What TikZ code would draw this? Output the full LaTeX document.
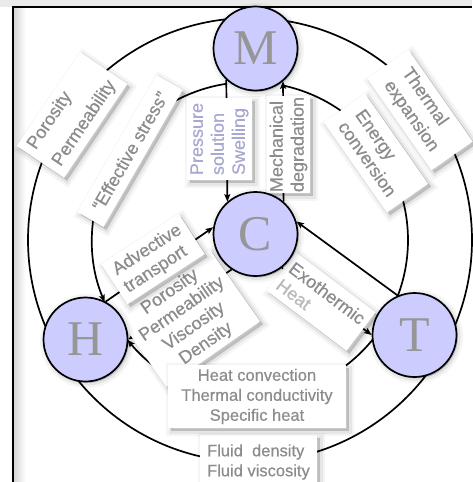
\documentclass[tikz,border=0pt]{standalone}
\usepackage{fontspec}
\setmainfont{Liberation Sans}
\newfontfamily\lblfont{Liberation Sans}[FakeBold=0.5]
\newfontfamily\letterfont{Liberation Serif}
\usetikzlibrary{arrows.meta,calc,shadows}
\definecolor{lav}{RGB}{204,204,255}
\definecolor{txt}{RGB}{140,140,140}
\definecolor{ltr}{RGB}{150,150,150}
\definecolor{lavtxt}{RGB}{168,168,208}
\definecolor{bggray}{RGB}{234,234,234}
\pgfdeclarelayer{bg}
\pgfdeclarelayer{lines}
\pgfdeclarelayer{boxes}
\pgfsetlayers{bg,lines,boxes,main}
\begin{document}
\begin{tikzpicture}[x=1pt,y=1pt,
  softshadow/.style={
     general shadow={shadow xshift=#1,shadow yshift=-#1,fill=black,draw=black,line width=10pt,opacity=0.04},
     general shadow={shadow xshift=#1,shadow yshift=-#1,fill=black,draw=black,line width=5pt,opacity=0.06},
     general shadow={shadow xshift=#1,shadow yshift=-#1,fill=black,opacity=0.09}},
  proc/.style={circle,draw=black,line width=1.7pt,fill=lav,minimum size=84pt,inner sep=0pt,
     font=\letterfont\fontsize{50}{50}\selectfont,text=ltr,softshadow=1.5pt},
  lbl/.style={fill=white,text=txt,inner sep=0pt,font=\lblfont\fontsize{18}{21}\selectfont,softshadow=3pt},
  hlbl/.style={lbl,font=\lblfont\fontsize{16.5}{20}\selectfont},
  link/.style={line width=1.7pt,draw=black},
  tip/.style={-{Stealth[length=7.5pt,width=6pt,inset=1.5pt]}}]
\useasboundingbox (0,0) rectangle (472,-482);
\begin{pgfonlayer}{bg}
  \fill[white] (0,0) rectangle (472,-482);
  \fill[bggray] (0,0) rectangle (472,-7);
  \shade[left color=gray!30,right color=white] (14,-8) rectangle (26,-482);
  \draw[line width=1.8pt] (13,-482) -- (13,-7) -- (472,-7);
\end{pgfonlayer}
% process circles
\node[proc] (M) at (255.5,-48.5) {M};
\node[proc] (C) at (255.5,-234) {C};
\node[proc] (H) at (85.5,-339.5) {H};
\node[proc] (T) at (414.5,-335) {T};
\coordinate (O) at (250,-240);
% connectors
\begin{pgfonlayer}{lines}
  \draw[link] ($(O)+(0:222)$) arc[start angle=0,end angle=360,radius=222];
  \draw[link,tip] ($(O)+(98.37:158)$) arc[start angle=98.37,end angle=203.17,radius=158];
  \draw[link,tip] ($(O)+(-39:158)$) arc[start angle=-39,end angle=-140.83,radius=158];
  \draw[link] ($(O)+(-21:158)$) arc[start angle=-21,end angle=77.94,radius=158];
  \draw[link,tip] (M.227.2) -- (C.131.8);
  \draw[link,tip] (C.49.1) -- (M.310.9);
  \draw[link,tip] (H.62.7) -- (C.171);
  \draw[link,tip] (C.236) -- (H.east);
  \draw[link,tip] (T.113.9) -- (C.17);
  \draw[link,tip] (C.-52) -- (T.west);
\end{pgfonlayer}
% labels
\begin{pgfonlayer}{boxes}
  \node[lbl,rotate=56,minimum width=113pt,minimum height=57pt,align=left] (b1) at (72,-115) {Porosity\\[9pt]Permeability};
  \node[lbl,rotate=60,minimum width=158pt,minimum height=30pt] (b2) at (130,-151) {“Effective stress”};
  \node[lbl,rotate=90,minimum width=82pt,minimum height=65pt,align=left,text=lavtxt] (b3) at (219.5,-139) {Pressure\\solution\\Swelling};
  \node[lbl,rotate=90,minimum width=97pt,minimum height=43pt,align=left] (b4) at (288.5,-144.5) {Mechanical\\degradation};
  \node[lbl,rotate=-55,minimum width=110pt,minimum height=50pt,align=left] (b5) at (376,-153) {Energy\\conversion};
  \node[lbl,rotate=-55,minimum width=112pt,minimum height=50pt,align=left] (b6) at (420,-110) {Thermal\\[1pt]expansion};
  \node[lbl,rotate=35,minimum width=114pt,minimum height=88pt,align=center] (b8) at (188,-318) {Porosity\\Permeability\\Viscosity\\Density};
  \node[lbl,rotate=33,minimum width=92pt,minimum height=48pt,align=left] (b7) at (153,-259) {Advective\\transport};
  \node[lbl,rotate=-37,minimum width=100pt,minimum height=48pt,align=left] (b9) at (321,-301.5) {Exothermic\\\textcolor{gray!55}{Heat}};
  \node[hlbl,minimum width=117pt,minimum height=54pt,align=left] (b11) at (258.5,-462) {Fluid~~density\\Fluid viscosity};
  \node[hlbl,minimum width=178pt,minimum height=63pt,align=center] (b10) at (257,-396.5) {Heat convection\\Thermal conductivity\\Specific heat};
\end{pgfonlayer}
\end{tikzpicture}
\end{document}
